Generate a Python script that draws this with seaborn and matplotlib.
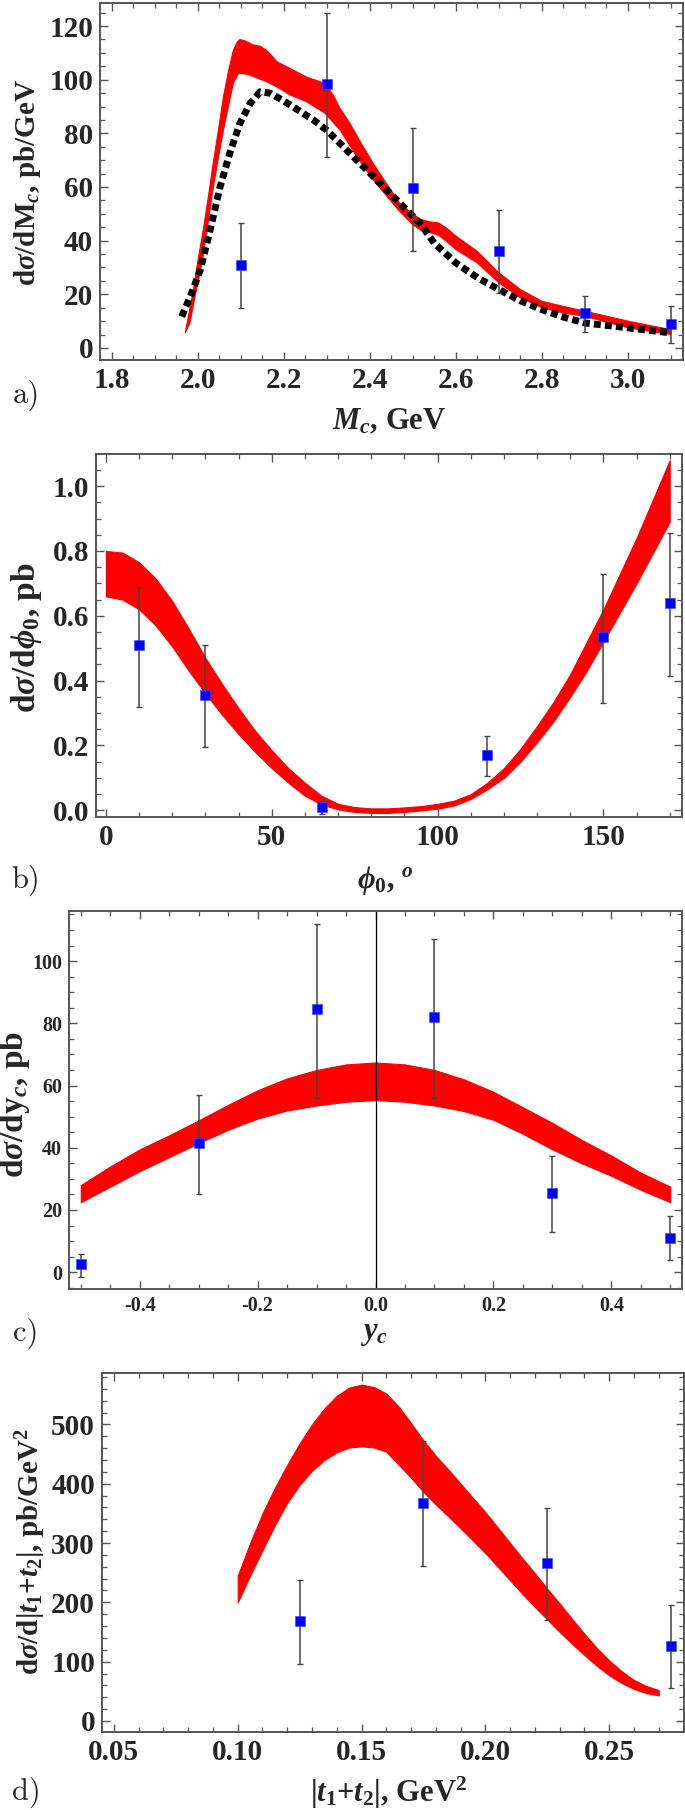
import numpy as np
import pandas as pd
import matplotlib
matplotlib.use("Agg")
import matplotlib.pyplot as plt
from matplotlib.ticker import MultipleLocator, FormatStrFormatter
import seaborn as sns

# ---------------- data ----------------
# panel a : d sigma / d M_c
a_pts_x = [2.1, 2.3, 2.5, 2.7, 2.9, 3.1]
a_pts_y = [31, 98.5, 59.5, 36, 13, 9]
a_pts_lo = [15, 71, 36, 20.5, 6, 2]
a_pts_hi = [46.5, 125, 82, 51.5, 19.5, 15.5]
a_up_x = [1.971, 1.98, 1.99, 2.0, 2.013, 2.025, 2.036, 2.048, 2.06, 2.072, 2.083, 2.092, 2.098,
          2.11, 2.129, 2.145, 2.16, 2.172, 2.184, 2.215, 2.253, 2.296, 2.315, 2.33, 2.354, 2.38,
          2.408, 2.44, 2.47, 2.5, 2.517, 2.54, 2.56, 2.58, 2.6, 2.65, 2.7, 2.75, 2.8,
          2.85, 2.9, 3.0, 3.1]
a_up_y = [5.5, 13, 21.6, 32, 44, 56.5, 68.8, 81, 93.7, 103.5, 111, 114, 115, 114.5, 113, 112.5,
          111, 109, 106.7, 104.2, 101, 98.6, 94.3, 89.5, 83.7, 76.3, 68.8, 61, 53.9, 50, 48,
          47, 46.6, 44.5, 41.7, 36, 28, 21.8, 17.4, 15.5, 13.7, 10, 6.8]
a_lo_x = [1.971, 1.982, 1.995, 2.01, 2.022, 2.033, 2.046, 2.06, 2.072, 2.083, 2.095, 2.108,
          2.122, 2.14, 2.16, 2.19, 2.215, 2.253, 2.296, 2.331, 2.37, 2.408, 2.44, 2.47, 2.5,
          2.517, 2.54, 2.56, 2.58, 2.6, 2.65, 2.7, 2.75, 2.8, 2.85, 2.9, 3.0, 3.1]
a_lo_y = [5.5, 9.3, 20, 31.6, 44, 56.4, 69, 81.2, 90.5, 98.7, 102.4, 102.2, 101.7, 100.5, 99.3,
          96.8, 94.3, 91.8, 87.5, 81.2, 71.3, 62.6, 56.5, 50.8, 46, 44, 43, 42, 39.5, 36.7,
          31.7, 24.3, 18.7, 15, 13, 11.8, 7.5, 5]
a_dash_x = [1.963, 1.985, 2.006, 2.029, 2.052, 2.075, 2.098, 2.122, 2.145, 2.168, 2.19, 2.215,
            2.269, 2.3, 2.362, 2.424, 2.486, 2.517, 2.55, 2.6, 2.65, 2.7, 2.75, 2.8, 2.85, 2.9,
            3.0, 3.1]
a_dash_y = [11.7, 20, 29, 44, 60, 72.8, 83.7, 91.2, 95.5, 95, 93, 90.6, 85, 81.2, 71.3, 61.4,
            51.4, 46.5, 39, 31.7, 26.2, 21.8, 17.6, 14.3, 11.5, 9.3, 7.5, 5.6]

# panel b : d sigma / d phi_0
b_pts_x = [10, 30, 65, 115, 150, 170]
b_pts_y = [0.51, 0.355, 0.01, 0.17, 0.535, 0.64]
b_pts_lo = [0.32, 0.195, -0.012, 0.105, 0.33, 0.415]
b_pts_hi = [0.69, 0.51, 0.035, 0.23, 0.73, 0.855]
b_band_x = [0, 5, 10, 15, 20, 25, 30, 35, 40, 45, 50, 55, 60, 65, 70, 75, 80, 85, 90, 95,
            100, 105, 110, 115, 120, 125, 130, 135, 140, 145, 150, 155, 160, 165, 170]
b_band_up = [0.80, 0.795, 0.765, 0.715, 0.645, 0.56, 0.47, 0.39, 0.315, 0.245, 0.185, 0.13,
             0.085, 0.045, 0.02, 0.01, 0.006, 0.006, 0.009, 0.013, 0.02, 0.03, 0.05, 0.085,
             0.13, 0.19, 0.26, 0.335, 0.42, 0.52, 0.62, 0.73, 0.84, 0.96, 1.08]
b_band_lo = [0.66, 0.65, 0.62, 0.57, 0.505, 0.43, 0.36, 0.295, 0.235, 0.18, 0.13, 0.085,
             0.045, 0.018, 0.003, -0.005, -0.008, -0.008, -0.005, 0.0, 0.005, 0.015, 0.035,
             0.065, 0.10, 0.15, 0.21, 0.275, 0.35, 0.43, 0.52, 0.61, 0.70, 0.795, 0.89]

# panel c : d sigma / d y_c
c_pts_x = [-0.5, -0.3, -0.1, 0.1, 0.3, 0.5]
c_pts_y = [2.5, 41.5, 84.5, 82, 25.5, 11]
c_pts_lo = [-1.5, 25, 56, 56, 13, 4]
c_pts_hi = [6, 57, 112, 107, 37.5, 18]
c_band_x = [-0.5, -0.45, -0.4, -0.35, -0.3, -0.25, -0.2, -0.15, -0.1, -0.05, 0.0,
            0.05, 0.1, 0.15, 0.2, 0.25, 0.3, 0.35, 0.4, 0.45, 0.5]
c_band_up = [28, 34, 39.5, 44, 48.8, 53.8, 58.5, 62.3, 65, 66.8, 67.4,
             66.8, 65, 62, 58, 53, 48, 42.5, 37.5, 32, 27.5]
c_band_lo = [22.5, 27.5, 32.5, 37, 41.5, 45.8, 49.4, 52, 53.6, 54.8, 55.3,
             54.8, 53.6, 51.8, 49, 44.5, 39.5, 35, 31, 26.5, 22.5]

# panel d : d sigma / d |t1+t2|
d_pts_x = [0.125, 0.175, 0.225, 0.275]
d_pts_y = [168, 368, 267, 126]
d_pts_lo = [96, 261, 171, 55]
d_pts_hi = [238, 472, 359, 196]
d_band_x = [0.100, 0.105, 0.11, 0.115, 0.12, 0.125, 0.13, 0.135, 0.14, 0.145, 0.15, 0.155,
            0.16, 0.165, 0.17, 0.175, 0.18, 0.185, 0.19, 0.195, 0.20, 0.205, 0.21, 0.215,
            0.22, 0.225, 0.23, 0.235, 0.24, 0.245, 0.25, 0.255, 0.26, 0.265, 0.27]
d_band_up = [245, 300, 350, 393, 432, 468, 500, 527, 548, 562, 567, 563, 552, 530, 502, 473,
             447, 424, 400, 376, 352, 326, 300, 274, 249, 223, 198, 172, 147, 123, 102, 84,
             69, 59, 52]
d_band_lo = [200, 245, 288, 330, 368, 398, 422, 440, 453, 461, 463, 461, 454, 432, 410, 386,
             365, 345, 325, 304, 283, 260, 237, 214, 192, 171, 150, 130, 111, 93, 77, 64,
             54, 47, 43]

# ---------------- style ----------------
sns.set_theme(style="ticks")
plt.rcParams["font.family"] = ["Liberation Serif", "DejaVu Serif"]
plt.rcParams["font.weight"] = "bold"
plt.rcParams["mathtext.fontset"] = "custom"
plt.rcParams["mathtext.rm"] = "Liberation Serif:bold"
plt.rcParams["mathtext.bf"] = "Liberation Serif:bold"
plt.rcParams["mathtext.it"] = "Liberation Serif:italic:bold"
plt.rcParams["mathtext.fallback"] = "stix"
plt.rcParams["axes.unicode_minus"] = True

W, H = 685, 1810
fig = plt.figure(figsize=(W / 100, H / 100), dpi=100)

FRAME = "#555555"


def make_axes(left, right, top, bottom):
    ax = fig.add_axes([left / W, 1 - bottom / H, (right - left) / W, (bottom - top) / H])
    ax.box = (left, right, top, bottom)
    ax.set_facecolor("white")
    for s in ax.spines.values():
        s.set_color(FRAME)
        s.set_linewidth(1.4)
    ax.tick_params(which="both", direction="in", top=True, right=True, color=FRAME)
    ax.tick_params(which="major", length=6, width=1.0)
    ax.tick_params(which="minor", length=3.5, width=0.9)
    return ax


def frac(ax, px, py):
    l, r, t, b = ax.box
    return (px - l) / (r - l), (b - py) / (b - t)


def points(ax, xs, ys, lo, hi):
    yerr = [np.array(ys) - np.array(lo), np.array(hi) - np.array(ys)]
    ax.errorbar(xs, ys, yerr=yerr, fmt="none", ecolor="#444444", elinewidth=1.1,
                capsize=2.5, capthick=1.0, zorder=3)
    df = pd.DataFrame({"x": xs, "y": ys})
    sns.scatterplot(data=df, x="x", y="y", marker="s", color="#0000ff", s=50,
                    edgecolor="#3344ff", linewidth=0.4, ax=ax, zorder=4)


def finish(ax, size, xlab, xpos, ylab, ypos, tag, tagpos, xsize=22, ysize=22):
    ax.tick_params(labelsize=size, pad=5)
    for axis in (ax.xaxis, ax.yaxis):
        for tk in axis.get_major_ticks():
            tk.label1.set_fontweight("bold")
            tk.label1.set_fontfamily("Liberation Serif")
    ax.set_xlabel(xlab, fontsize=xsize, va="center", ha="center", fontweight="bold",
                  fontfamily="Liberation Serif")
    ax.xaxis.set_label_coords(*frac(ax, *xpos))
    ax.set_ylabel(ylab, fontsize=ysize, va="center", ha="center", fontweight="bold",
                  fontfamily="Liberation Serif")
    ax.yaxis.set_label_coords(*frac(ax, *ypos))
    fig.text(tagpos[0] / W, 1 - tagpos[1] / H, tag, fontsize=22, family="cmr10",
             weight="normal", ha="center", va="center")


# ---------------- panel a ----------------
ax = make_axes(100, 683, 3, 360)
poly_x = a_up_x + a_lo_x[::-1]
poly_y = a_up_y + a_lo_y[::-1]
ax.fill(poly_x, poly_y, color="#ff0000", lw=0.8, zorder=1)
dfa = pd.DataFrame({"x": a_dash_x, "y": a_dash_y})
sns.lineplot(data=dfa, x="x", y="y", sort=False, estimator=None, color="black",
             lw=5.0, ax=ax, zorder=2)
ax.lines[-1].set_dashes([1.0, 0.6])
ax.lines[-1].set_dash_capstyle("butt")
points(ax, a_pts_x, a_pts_y, a_pts_lo, a_pts_hi)
ax.set_xlim(1.773, 3.128)
ax.set_ylim(-4.5, 128.6)
ax.xaxis.set_major_locator(MultipleLocator(0.2))
ax.xaxis.set_minor_locator(MultipleLocator(0.05))
ax.yaxis.set_major_locator(MultipleLocator(20))
ax.yaxis.set_minor_locator(MultipleLocator(5))
ax.xaxis.set_major_formatter(FormatStrFormatter("%.1f"))
ax.yaxis.set_major_formatter(FormatStrFormatter("%d"))
finish(ax, 21, r"$M_c$, GeV", (389, 422), r"d$\sigma$/dM$_c$, pb/GeV", (28, 182),
       "a)", (26, 395), ysize=21)

# ---------------- panel b ----------------
ax = make_axes(96, 682, 454, 817)
ax.fill_between(b_band_x, b_band_lo, b_band_up, color="#ff0000", lw=0.8, zorder=1)
points(ax, b_pts_x, b_pts_y, b_pts_lo, b_pts_hi)
ax.set_xlim(-3.0, 173.7)
ax.set_ylim(-0.0206, 1.099)
ax.xaxis.set_major_locator(MultipleLocator(50))
ax.xaxis.set_minor_locator(MultipleLocator(10))
ax.yaxis.set_major_locator(MultipleLocator(0.2))
ax.yaxis.set_minor_locator(MultipleLocator(0.05))
ax.xaxis.set_major_formatter(FormatStrFormatter("%d"))
ax.yaxis.set_major_formatter(FormatStrFormatter("%.1f"))
finish(ax, 21, r"$\phi_0$, $^o$", (385, 880), r"d$\sigma$/d$\phi_0$, pb", (26, 638),
       "b)", (26, 880), ysize=24)

# ---------------- panel c ----------------
ax = make_axes(69, 682, 911, 1289)
ax.fill_between(c_band_x, c_band_lo, c_band_up, color="#ff0000", lw=0.8, zorder=1)
ax.axvline(0, color="black", lw=0.9, zorder=2)
points(ax, c_pts_x, c_pts_y, c_pts_lo, c_pts_hi)
ax.set_xlim(-0.520, 0.520)
ax.set_ylim(-5.4, 116.1)
ax.xaxis.set_major_locator(MultipleLocator(0.2))
ax.xaxis.set_minor_locator(MultipleLocator(0.05))
ax.yaxis.set_major_locator(MultipleLocator(20))
ax.yaxis.set_minor_locator(MultipleLocator(5))
ax.xaxis.set_major_formatter(FormatStrFormatter("%.1f"))
ax.yaxis.set_major_formatter(FormatStrFormatter("%d"))
finish(ax, 14.5, r"$y_c$", (374, 1333), r"d$\sigma$/dy$_c$, pb", (15, 1104),
       "c)", (26, 1333), ysize=24)

# ---------------- panel d ----------------
ax = make_axes(102, 684, 1373, 1732)
ax.fill_between(d_band_x, d_band_lo, d_band_up, color="#ff0000", lw=0.8, zorder=1)
points(ax, d_pts_x, d_pts_y, d_pts_lo, d_pts_hi)
ax.set_xlim(0.0452, 0.2802)
ax.set_ylim(-18.6, 586.6)
ax.xaxis.set_major_locator(MultipleLocator(0.05))
ax.xaxis.set_minor_locator(MultipleLocator(0.01))
ax.yaxis.set_major_locator(MultipleLocator(100))
ax.yaxis.set_minor_locator(MultipleLocator(20))
ax.xaxis.set_major_formatter(FormatStrFormatter("%.2f"))
ax.yaxis.set_major_formatter(FormatStrFormatter("%d"))
finish(ax, 21, r"|$t_1$+$t_2$|, GeV$^2$", (389, 1793),
       r"d$\sigma$/d|$t_1$+$t_2$|, pb/GeV$^2$", (31, 1552), "d)", (26, 1792), ysize=21)

fig.savefig("out.png", dpi=100)
